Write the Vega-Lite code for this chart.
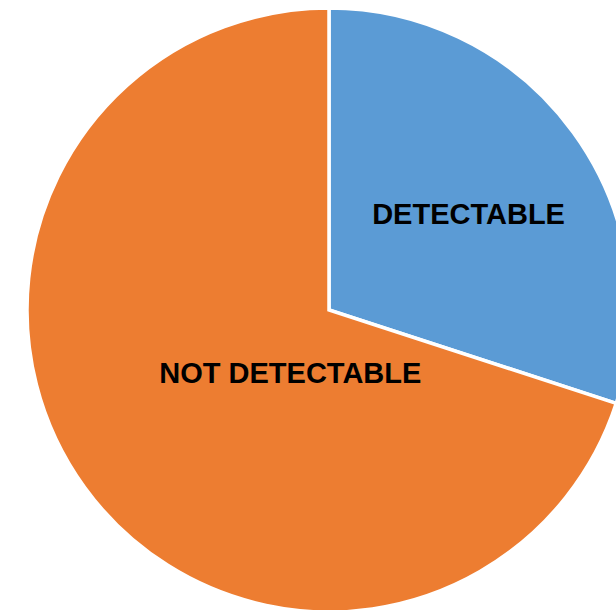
{
  "$schema": "https://vega.github.io/schema/vega-lite/v6.json",
  "width": 658,
  "height": 620,
  "autosize": {"type": "none"},
  "padding": 0,
  "background": "white",
  "view": {"stroke": null},
  "data": {"values": [
    {"category": "DETECTABLE", "value": 30, "rank": 1},
    {"category": "NOT DETECTABLE", "value": 70, "rank": 2}
  ]},
  "encoding": {
    "theta": {"field": "value", "type": "quantitative", "stack": true},
    "order": {"field": "rank", "type": "quantitative"}
  },
  "layer": [
    {
      "mark": {"type": "arc", "radius": 302, "stroke": "white", "strokeWidth": 3.5},
      "encoding": {
        "color": {"field": "category", "type": "nominal",
          "scale": {"domain": ["DETECTABLE", "NOT DETECTABLE"], "range": ["#5B9BD5", "#ED7D31"]},
          "legend": null}
      }
    },
    {
      "mark": {"type": "text",
        "radius": {"expr": "datum.category === 'DETECTABLE' ? 170 : 75"},
        "dx": {"expr": "datum.category === 'DETECTABLE' ? 2 : 22"},
        "dy": {"expr": "datum.category === 'DETECTABLE' ? 5 : 20"},
        "font": "Liberation Sans", "fontWeight": "bold", "fontSize": 29, "align": "center", "baseline": "middle", "color": "black"},
      "encoding": {"text": {"field": "category"}}
    }
  ]
}
